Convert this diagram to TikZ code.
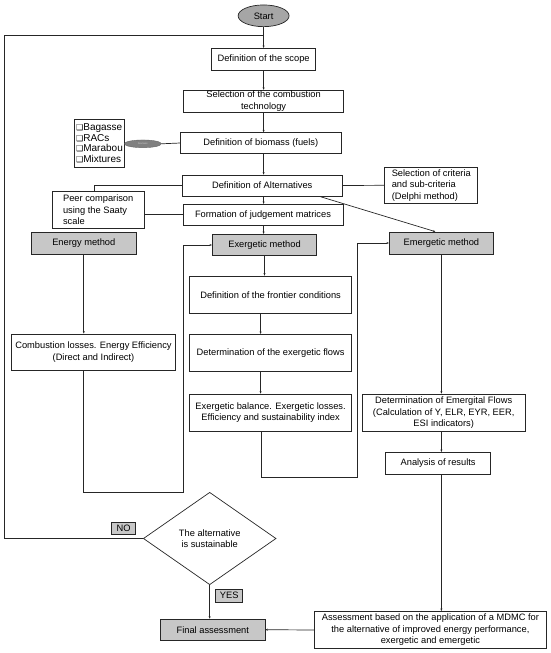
\documentclass[tikz,border=0pt]{standalone}
\usepackage{fontspec}
\setmainfont{Liberation Sans}
\newfontfamily\symfont{DejaVu Sans}
\usetikzlibrary{arrows.meta,shapes.geometric}

\newcommand{\optbox}{{\symfont\fontsize{8}{8}\selectfont ❑}}

\begin{document}
\begin{tikzpicture}[x=1pt,y=-1pt,
  font=\fontsize{9.3}{11.5}\selectfont,
  line/.style={draw=black!85,line width=0.7pt},
  arr/.style={line,-{Stealth[length=2.5pt,width=2pt]}},
  box/.style={draw=black!85,line width=0.7pt,fill=white,align=center,inner sep=1pt},
  greybox/.style={box,fill=black!22},
  tagbox/.style={draw=black!85,line width=0.6pt,fill=black!22,inner sep=0pt}]
\useasboundingbox (0,0) rectangle (550,653);

\node[ellipse,draw=black!85,line width=0.7pt,fill=black!35,minimum width=51,minimum height=21.7,inner sep=0pt] (start) at (263.6,15.8) {Start};
\node[box,minimum width=104.2,minimum height=21.7] (scope) at (263.6,59.2) {Definition of the scope};
\node[box,minimum width=160,minimum height=21.3] (tech) at (263.6,101.3) {Selection of the combustion\\technology};
\node[box,minimum width=160.3,minimum height=20.7] (fuel) at (260.8,143) {Definition of biomass (fuels)};
\node[box,align=left,minimum width=50,minimum height=48,font=\fontsize{10}{10.7}\selectfont] (list) at (99.5,143.3)
  {\optbox Bagasse\\\optbox RACs\\\optbox Marabou\\\optbox Mixtures};
\node[ellipse,draw=black!60,fill=black!50,minimum width=36.8,minimum height=7.7,inner sep=0pt,font=\fontsize{2.5}{3}\selectfont,text=black!20] (tag) at (142.9,143.8) {biomass};
\node[box,minimum width=159.6,minimum height=21] (alt) at (262.2,185.5) {Definition of Alternatives};
\node[box,align=left,minimum width=93,minimum height=36] (crit) at (431.3,185.3) {Selection of criteria\\and sub-criteria\\(Delphi method)};
\node[box,align=left,minimum width=92.6,minimum height=36.7] (peer) at (98.2,210) {Peer comparison\\using the Saaty\\scale};
\node[box,minimum width=160,minimum height=21] (form) at (263,214.8) {Formation of judgement matrices};
\node[greybox,minimum width=104.5,minimum height=21.3] (energy) at (83.8,243.3) {Energy method};
\node[greybox,minimum width=104.5,minimum height=21.3] (exer) at (264.5,245) {Exergetic method};
\node[greybox,minimum width=104.2,minimum height=22] (emer) at (441.4,243) {Emergetic method};
\node[box,minimum width=163.8,minimum height=36.7] (comb) at (93.5,352.3) {Combustion losses. Energy Efficiency\\(Direct and Indirect)};
\node[box,minimum width=162.4,minimum height=37.3] (front) at (270.6,294.7) {Definition of the frontier conditions};
\node[box,minimum width=162.4,minimum height=36.7] (flows) at (270.6,352.7) {Determination of the exergetic flows};
\node[box,minimum width=162.4,minimum height=37.3] (bal) at (270.6,412.7) {Exergetic balance. Exergetic losses.\\Efficiency and sustainability index};
\node[box,minimum width=163.4,minimum height=37.3] (emflow) at (443.7,412.7) {Determination of Emergital Flows\\(Calculation of Y, ELR, EYR, EER,\\ESI indicators)};
\node[box,minimum width=104.6,minimum height=21.7] (res) at (438.1,463.2) {Analysis of results};
\node[diamond,draw=black!85,line width=0.7pt,fill=white,align=center,inner sep=0pt,minimum width=132.7,minimum height=92.4] (ask) at (209.7,538.5) {The alternative\\is sustainable};
\node[box,minimum width=231.5,minimum height=37.3] (assess) at (430.4,630) {Assessment based on the application of a MDMC for\\the alternative of improved energy performance,\\exergetic and emergetic};
\node[greybox,minimum width=104.3,minimum height=21.3] (final) at (212.8,629.7) {Final assessment};
\node[tagbox,minimum width=24,minimum height=12.7] (no) at (123.7,528.3) {NO};
\node[tagbox,minimum width=27,minimum height=13] (yes) at (229.2,595.5) {YES};

\coordinate (loopB) at (4.2,538.5);
\coordinate (loopT) at (4.2,35);
\coordinate (backE) at (183.2,492);
\coordinate (backX) at (357.1,477.3);

\draw[arr] (start.south) -- (scope.north);
\draw[line] (ask.west) -- (loopB) -- (loopT) -- (loopT -| start.south);
\draw[arr] (scope.south) -- (tech.north);
\draw[arr] (tech.south) -- (tech.south |- fuel.north);
\draw[arr] (tech.south |- fuel.south) -- (tech.south |- alt.north);
\draw[arr] (tech.south |- alt.south) -- (tech.south |- form.north);
\draw[arr] (tech.south |- form.south) -- (tech.south |- exer.north);
\draw[line] (tag.east) -- (fuel.west);
\draw[line] (alt.east) -- (crit.west);
\draw[line] (alt.west) -| ([xshift=-3.5pt]peer.north);
\draw[line] (peer.east |- form.west) -- (form.west);
\draw[arr] ([xshift=-23pt]alt.south east) -- ([xshift=-6pt]emer.north);
\draw[arr] (energy.south) -- (energy.south |- comb.north);
\draw[arr] (energy.south |- comb.south) -- (energy.south |- backE) -- (backE) -- (backE |- exer.west) -- (exer.west);
\draw[arr] (exer.south) -- (exer.south |- front.north);
\draw[arr] ([xshift=-10pt]front.south) -- ([xshift=-10pt]flows.north);
\draw[arr] ([xshift=-10pt]flows.south) -- ([xshift=-10pt]bal.north);
\draw[arr] ([xshift=-9pt]bal.south) |- (backX) |- (emer.west);
\draw[arr] (emer.south) -- (emer.south |- emflow.north);
\draw[arr] (emer.south |- emflow.south) -- (emer.south |- res.north);
\draw[arr] (emer.south |- res.south) -- (emer.south |- assess.north);
\draw[arr] (assess.west) -- (final.east);
\draw[arr] (ask.south) -- (ask.south |- final.north);
\end{tikzpicture}
\end{document}
